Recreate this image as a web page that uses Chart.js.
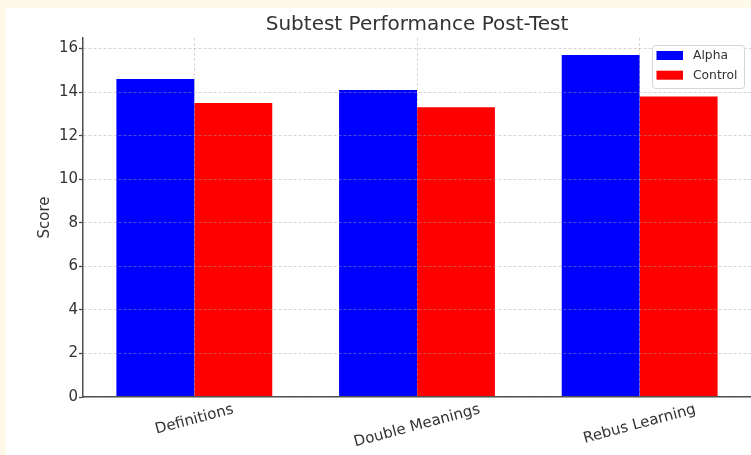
<!DOCTYPE html>
<html>
<head>
<meta charset="utf-8">
<script src="https://cdn.jsdelivr.net/npm/chart.js@4.4.0/dist/chart.umd.min.js"></script>
<style>
  html, body { margin: 0; padding: 0; background: #fef9e8; }
  #wrap { position: absolute; left: 6px; top: 8px; width: 745px; height: 447px; background: #fff; }
</style>
</head>
<body>
<div id="wrap"><canvas id="myChart" width="745" height="447"></canvas></div>
<script>
// values
const categories = ['Definitions', 'Double Meanings', 'Rebus Learning'];
const alphaScores = [14.6, 14.1, 15.7];
const controlScores = [13.5, 13.3, 13.8];
const yTicks = [0, 2, 4, 6, 8, 10, 12, 14, 16];

const textColor = '#333333';
const axisColor = '#4d4d4d';
const gridColor = 'rgba(165,165,165,0.45)';

Chart.defaults.font.family = "'DejaVu Sans', sans-serif";
Chart.defaults.color = textColor;

// rotated x labels, centred on the tick like matplotlib does
const xLabels = {
    id: 'xLabels',
    afterDraw(chart) {
        const ctx = chart.ctx;
        const xScale = chart.scales.x;
        const angle = 15 * Math.PI / 180;
        ctx.save();
        ctx.font = "15px 'DejaVu Sans'";
        ctx.fillStyle = textColor;
        ctx.textAlign = 'center';
        ctx.textBaseline = 'middle';
        chart.data.labels.forEach(function(label, i) {
            const x = xScale.getPixelForTick(i);
            const w = ctx.measureText(label).width;
            const y = xScale.top + 5 + (w * Math.sin(angle) + 15 * Math.cos(angle)) / 2;
            ctx.save();
            ctx.translate(x, y);
            ctx.rotate(-angle);
            ctx.fillText(label, 0, 0);
            ctx.restore();
        });
        ctx.restore();
    }
};

// legend box inside the upper right corner of the plot
const legendInside = {
    id: 'legendInside',
    afterDraw(chart) {
        const ctx = chart.ctx;
        const ca = chart.chartArea;
        const boxW = 92, boxH = 43;
        const left = ca.right - 7 - boxW;
        const top = ca.top + 7;
        ctx.save();
        ctx.beginPath();
        ctx.roundRect(left + 0.5, top + 0.5, boxW, boxH, 3);
        ctx.fillStyle = 'rgba(255,255,255,0.8)';
        ctx.fill();
        ctx.strokeStyle = '#d6d6d6';
        ctx.lineWidth = 1;
        ctx.stroke();
        ctx.font = "12.3px 'DejaVu Sans'";
        ctx.textAlign = 'left';
        ctx.textBaseline = 'middle';
        chart.data.datasets.forEach(function(ds, i) {
            const py = top + 6 + i * 19.7;
            ctx.fillStyle = ds.backgroundColor;
            ctx.fillRect(left + 4.5, py, 26.5, 9);
            ctx.fillStyle = textColor;
            ctx.fillText(ds.label, left + 41, py + 5);
        });
        ctx.restore();
    }
};

const ctx = document.getElementById('myChart').getContext('2d');
new Chart(ctx, {
    type: 'bar',
    data: {
        labels: categories,
        datasets: [
            { label: 'Alpha', data: alphaScores, backgroundColor: '#0000ff' },
            { label: 'Control', data: controlScores, backgroundColor: '#ff0000' }
        ]
    },
    options: {
        responsive: false,
        animation: false,
        devicePixelRatio: 1,
        layout: { padding: 0 },
        datasets: {
            bar: { categoryPercentage: 0.7, barPercentage: 1.0 }
        },
        plugins: {
            legend: { display: false },
            tooltip: { enabled: false },
            title: {
                display: true,
                text: 'Subtest Performance Post-Test',
                fullSize: false,
                color: textColor,
                font: { size: 20, weight: 'normal' },
                padding: { top: 4.5, bottom: 1.5 }
            }
        },
        scales: {
            x: {
                offset: true,
                afterFit: function(scale) { scale.height = 58; },
                ticks: { display: false },
                grid: { offset: false, drawTicks: false, color: gridColor, lineWidth: 1, z: 1 },
                border: { color: axisColor, width: 1.5, dash: [3, 2], z: 1 }
            },
            y: {
                min: 0,
                max: 16.485,
                afterFit: function(scale) { scale.width = 77; },
                afterBuildTicks: function(scale) {
                    scale.ticks = yTicks.map(function(v) { return { value: v }; });
                },
                ticks: { padding: 1, color: textColor, font: { size: 15 } },
                grid: {
                    color: gridColor, lineWidth: 1, z: 1,
                    tickLength: 4, tickColor: axisColor, tickWidth: 1.3
                },
                border: { color: axisColor, width: 1.5, dash: [3, 2], z: 1 },
                title: {
                    display: true,
                    text: 'Score',
                    color: textColor,
                    font: { size: 15 },
                    padding: { top: 30.6, bottom: 0 }
                }
            }
        }
    },
    plugins: [xLabels, legendInside]
});
</script>
</body>
</html>
